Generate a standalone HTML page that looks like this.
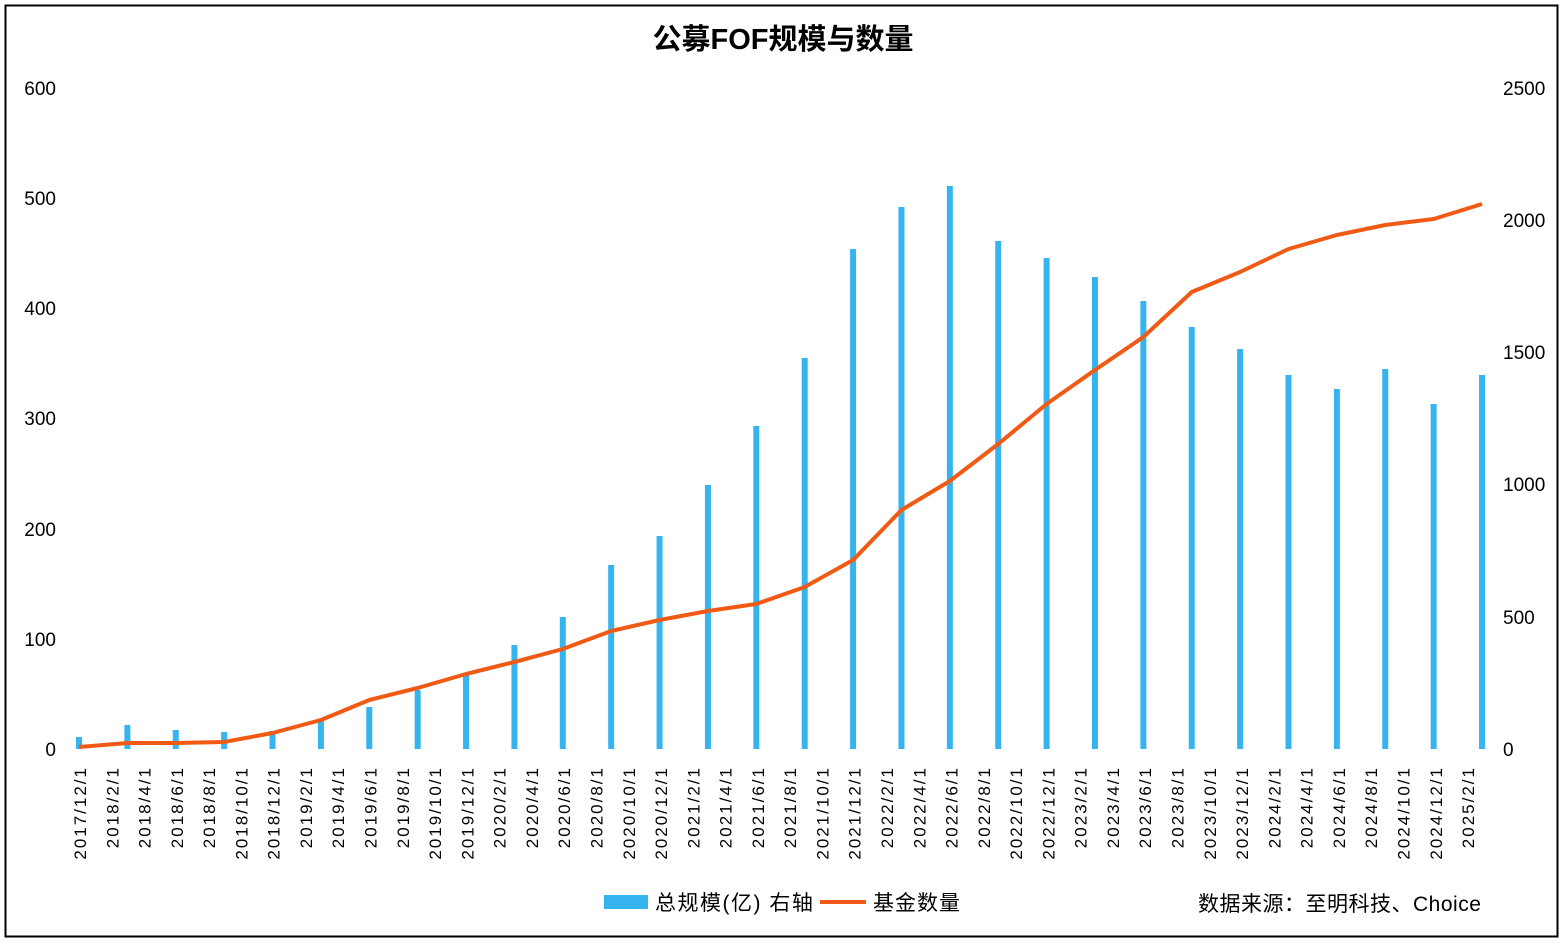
<!DOCTYPE html><html><head><meta charset="utf-8"><style>body{margin:0;background:#fff}svg{display:block}text{font-family:"Liberation Sans","Noto Sans CJK SC",sans-serif;fill:#000}</style></head><body>
<svg width="1565" height="943" xmlns="http://www.w3.org/2000/svg">
<rect x="5.5" y="5.5" width="1552" height="931" fill="#fff" stroke="#000" stroke-width="2"/>
<text x="783" y="49" font-size="29" font-weight="bold" text-anchor="middle">公募FOF规模与数量</text>
<g font-size="19" text-anchor="end">
<text x="56" y="756">0</text><text x="56" y="646">100</text><text x="56" y="536">200</text><text x="56" y="425">300</text><text x="56" y="315">400</text><text x="56" y="205">500</text><text x="56" y="95">600</text>
</g>
<g font-size="19" text-anchor="start">
<text x="1503" y="756">0</text><text x="1503" y="624">500</text><text x="1503" y="491">1000</text><text x="1503" y="359">1500</text><text x="1503" y="227">2000</text><text x="1503" y="95">2500</text>
</g>
<g fill="#35b4ef" id="bars"></g>
<polyline id="ln" fill="none" stroke="#f05a14" stroke-width="4" stroke-linejoin="round" points=""/>
<g id="lab" font-size="17" letter-spacing="2"></g>
<rect x="604" y="895" width="44" height="14" fill="#35b4ef"/>
<text x="655" y="910" font-size="21" letter-spacing="1.5">总规模(亿) 右轴</text>
<line x1="820" y1="902" x2="866" y2="902" stroke="#f05a14" stroke-width="4"/>
<text x="873" y="910" font-size="21" letter-spacing="1">基金数量</text>
<text x="1198" y="911" font-size="21" letter-spacing="0.5">数据来源：至明科技、Choice</text>
</svg>
<script>
var xs=[],i;for(i=0;i<30;i++)xs.push(79+i*48.38);
var bt=[737,725,730,732,731,721,707,690,675,645,617,565,536,485,426,358,249,207,186,241,258,277,301,327,349,375,389,369,404,375];
var ly=[747,743,743,742,733,720,700,688,674,662,649,631,620,611,604,587,560,510,481,444,404,370,337,292,272,249,235,225,219,204];
var s='';for(i=0;i<30;i++)s+='<rect x="'+(xs[i]-3)+'" y="'+bt[i]+'" width="6" height="'+(749-bt[i])+'"/>';
document.getElementById('bars').innerHTML=s;
document.getElementById('ln').setAttribute('points',xs.map(function(x,i){return x+','+ly[i]}).join(' '));
var l='',y=2017,m=12;for(i=0;i<44;i++){var x=80+i*32.28;l+='<text transform="translate('+(x+6)+',766) rotate(-90)" text-anchor="end">'+y+'/'+m+'/1</text>';m+=2;if(m>12){m-=12;y++;}}
document.getElementById('lab').innerHTML=l;
</script>
</body></html>
